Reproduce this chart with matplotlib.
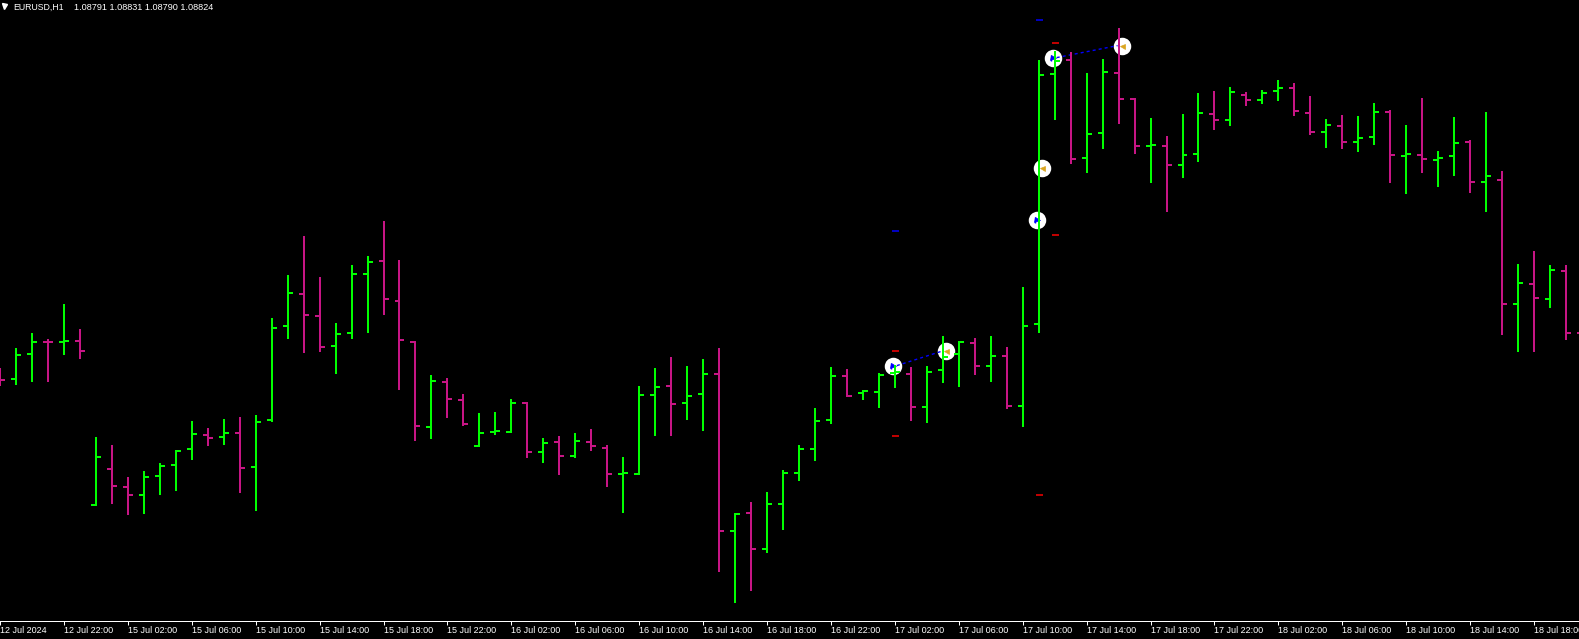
import matplotlib
matplotlib.use("Agg")
import matplotlib.pyplot as plt
from matplotlib.lines import Line2D
import pandas as pd
import numpy as np

# ---------------- data ----------------
symbol = "EURUSD,H1"
last_quote = ["1.08791", "1.08831", "1.08790", "1.08824"]

bar_times = (list(pd.date_range("2024-07-12 18:00", periods=6, freq="h")) +
             list(pd.date_range("2024-07-15 00:00", periods=94, freq="h")))

opens = [1.09045, 1.09041, 1.09073, 1.09088, 1.09088, 1.09089, 1.08884, 1.08929, 1.08906, 1.08896,
         1.08920, 1.08934, 1.08954, 1.08971, 1.08969, 1.08974, 1.08931, 1.08990, 1.09108, 1.09148,
         1.09120, 1.09083, 1.09099, 1.09173, 1.09189, 1.09139, 1.09088, 1.08981, 1.09038, 1.09015,
         1.08958, 1.08975, 1.08975, 1.09011, 1.08950, 1.08963, 1.08945, 1.08963, 1.08955, 1.08923,
         1.08923, 1.09021, 1.09033, 1.09011, 1.09023, 1.09048, 1.08851, 1.08874, 1.08829, 1.08885,
         1.08924, 1.08954, 1.08990, 1.09045, 1.09024, 1.09025, 1.09049, 1.09048, 1.09006, 1.09053,
         1.09072, 1.09086, 1.09058, 1.09070, 1.09008, 1.09110, 1.09423, 1.09440, 1.09318, 1.09349,
         1.09424, 1.09391, 1.09333, 1.09333, 1.09309, 1.09322, 1.09373, 1.09365, 1.09396, 1.09390,
         1.09401, 1.09405, 1.09374, 1.09350, 1.09358, 1.09338, 1.09344, 1.09375, 1.09320, 1.09321,
         1.09315, 1.09320, 1.09338, 1.09288, 1.09290, 1.09135, 1.09160, 1.09141, 1.09176, 1.09099]
highs = [1.09055, 1.09080, 1.09099, 1.09091, 1.09135, 1.09104, 1.08969, 1.08959, 1.08919, 1.08926,
         1.08936, 1.08953, 1.08989, 1.08980, 1.08991, 1.08994, 1.08996, 1.09118, 1.09171, 1.09220,
         1.09169, 1.09111, 1.09184, 1.09195, 1.09239, 1.09190, 1.09089, 1.09046, 1.09043, 1.09023,
         1.08999, 1.09000, 1.09016, 1.09013, 1.08968, 1.08970, 1.08974, 1.08979, 1.08959, 1.08944,
         1.09033, 1.09055, 1.09069, 1.09058, 1.09066, 1.09080, 1.08874, 1.08888, 1.08900, 1.08928,
         1.08959, 1.09005, 1.09056, 1.09054, 1.09028, 1.09049, 1.09059, 1.09056, 1.09058, 1.09095,
         1.09089, 1.09093, 1.09095, 1.09081, 1.09156, 1.09440, 1.09451, 1.09450, 1.09424, 1.09441,
         1.09480, 1.09393, 1.09368, 1.09345, 1.09373, 1.09399, 1.09401, 1.09406, 1.09400, 1.09403,
         1.09415, 1.09411, 1.09395, 1.09366, 1.09371, 1.09370, 1.09386, 1.09378, 1.09359, 1.09393,
         1.09326, 1.09369, 1.09340, 1.09375, 1.09301, 1.09185, 1.09201, 1.09184, 1.09184, 1.09109]
lows = [1.09033, 1.09034, 1.09038, 1.09038, 1.09071, 1.09066, 1.08883, 1.08885, 1.08871, 1.08873,
        1.08896, 1.08901, 1.08940, 1.08958, 1.08959, 1.08899, 1.08876, 1.08988, 1.09091, 1.09074,
        1.09075, 1.09048, 1.09091, 1.09099, 1.09121, 1.09028, 1.08964, 1.08966, 1.08993, 1.08983,
        1.08956, 1.08971, 1.08974, 1.08943, 1.08936, 1.08921, 1.08943, 1.08951, 1.08906, 1.08874,
        1.08921, 1.08970, 1.08970, 1.08990, 1.08976, 1.08800, 1.08761, 1.08776, 1.08824, 1.08853,
        1.08914, 1.08939, 1.08985, 1.09019, 1.09015, 1.09005, 1.09030, 1.08989, 1.08986, 1.09036,
        1.09031, 1.09046, 1.09038, 1.09004, 1.08981, 1.09099, 1.09365, 1.09310, 1.09299, 1.09329,
        1.09360, 1.09323, 1.09286, 1.09250, 1.09293, 1.09313, 1.09353, 1.09358, 1.09383, 1.09385,
        1.09389, 1.09370, 1.09346, 1.09330, 1.09329, 1.09325, 1.09334, 1.09286, 1.09273, 1.09299,
        1.09281, 1.09295, 1.09274, 1.09250, 1.09096, 1.09075, 1.09075, 1.09130, 1.09090, 1.09084]
closes = [1.09040, 1.09071, 1.09088, 1.09087, 1.09089, 1.09076, 1.08944, 1.08908, 1.08896, 1.08919,
          1.08933, 1.08951, 1.08973, 1.08968, 1.08974, 1.08930, 1.08988, 1.09105, 1.09149, 1.09121,
          1.09081, 1.09098, 1.09173, 1.09188, 1.09141, 1.09090, 1.08983, 1.09039, 1.09016, 1.08985,
          1.08974, 1.08976, 1.09011, 1.08950, 1.08961, 1.08945, 1.08964, 1.08958, 1.08923, 1.08924,
          1.09021, 1.09031, 1.09010, 1.09020, 1.09048, 1.08851, 1.08873, 1.08829, 1.08885, 1.08924,
          1.08954, 1.08989, 1.09045, 1.09020, 1.09026, 1.09046, 1.09050, 1.09006, 1.09050, 1.09069,
          1.09088, 1.09058, 1.09070, 1.09008, 1.09108, 1.09421, 1.09439, 1.09316, 1.09348, 1.09425,
          1.09391, 1.09333, 1.09334, 1.09309, 1.09321, 1.09374, 1.09365, 1.09400, 1.09390, 1.09399,
          1.09405, 1.09376, 1.09350, 1.09359, 1.09338, 1.09343, 1.09375, 1.09321, 1.09322, 1.09316,
          1.09318, 1.09336, 1.09288, 1.09295, 1.09135, 1.09161, 1.09143, 1.09178, 1.09099, 1.09090]

tick_labels = ["12 Jul 2024", "12 Jul 22:00", "15 Jul 02:00", "15 Jul 06:00", "15 Jul 10:00",
               "15 Jul 14:00", "15 Jul 18:00", "15 Jul 22:00", "16 Jul 02:00", "16 Jul 06:00",
               "16 Jul 10:00", "16 Jul 14:00", "16 Jul 18:00", "16 Jul 22:00", "17 Jul 02:00",
               "17 Jul 06:00", "17 Jul 10:00", "17 Jul 14:00", "17 Jul 18:00", "17 Jul 22:00",
               "18 Jul 02:00", "18 Jul 06:00", "18 Jul 10:00", "18 Jul 14:00", "18 Jul 18:00"]

# trades (bar time, price)
trade_open_time = ["2024-07-17 02:00", "2024-07-17 12:00", "2024-07-17 11:00"]
trade_open_price = [1.09058, 1.09443, 1.09240]
trade_close_time = ["2024-07-17 05:00", "2024-07-17 16:00", "2024-07-17 11:00"]
trade_close_price = [1.09076, 1.09458, 1.09305]

# stop / target levels
level_time = ["2024-07-17 02:00", "2024-07-17 02:00", "2024-07-17 02:00",
              "2024-07-17 12:00", "2024-07-17 12:00", "2024-07-17 11:00", "2024-07-17 11:00"]
level_price = [1.09226, 1.09076, 1.08970, 1.09461, 1.09221, 1.09490, 1.08896]
level_kind = ["tp", "sl", "sl", "sl", "sl", "tp", "sl"]

# ---------------- styles ----------------
UP = "#00FF00"
DOWN = "#C71585"
BG = "black"
W, H, DPI = 1579, 639, 100
PX = 72.0 / DPI  # points per pixel
BAR_PX = 16.0    # pixels per bar
FONT = ["Liberation Sans", "DejaVu Sans"]

fig = plt.figure(figsize=(W / DPI, H / DPI), dpi=DPI, facecolor=BG)
axis_y_px = 621
ax = fig.add_axes([0, (H - axis_y_px) / H, 1, axis_y_px / H], facecolor=BG)

n = len(opens)
x = np.arange(n)
time_index = pd.DatetimeIndex(bar_times)

def bar_of(t):
    return int(time_index.get_loc(pd.Timestamp(t)))

# x limits: bar i centre at pixel -2 + 16 i
x_left = 2.0 / BAR_PX
ax.set_xlim(x_left, x_left + W / BAR_PX)
price_per_px = 0.0000125
y_top = 1.09515
ax.set_ylim(y_top - axis_y_px * price_per_px, y_top)

o = np.array(opens); h = np.array(highs); l = np.array(lows); c = np.array(closes)
colors = [UP if cc > oo else DOWN for oo, cc in zip(o, c)]
lw = 2 * PX
tick = 5 / BAR_PX

# trade annotations (behind the bars)
oi = np.array([bar_of(t) for t in trade_open_time])
ci = np.array([bar_of(t) for t in trade_close_time])
open_x = oi - 2 / BAR_PX
close_x = ci + 3 / BAR_PX
circ_ms = 17.5 * PX
ax.plot(open_x, trade_open_price, "o", ms=circ_ms, mfc="white", mec="none", zorder=2)
ax.plot(close_x, trade_close_price, "o", ms=circ_ms, mfc="white", mec="none", zorder=2)
for xo, po, xc, pc in zip(open_x, trade_open_price, close_x, trade_close_price):
    if xc - xo > 1:
        ax.plot([xo + 4 / BAR_PX, xc - 4 / BAR_PX], [po, pc], color="#0000FF", lw=1.0,
                dashes=(2.2, 2.2), zorder=3)
ax.plot(open_x, trade_open_price, ">", ms=3.6, mfc="#0000FF", mec="#0000FF", mew=0.5, zorder=4)
ax.plot(open_x - 1.5 / BAR_PX, trade_open_price, "|", ms=4.5, mec="#0000FF", mew=1.0, zorder=4)
ax.plot(close_x, trade_close_price, "<", ms=3.6, mfc="#DAA520", mec="#DAA520", mew=0.5, zorder=4)

li = np.array([bar_of(t) for t in level_time])
lcol = ["#0000FF" if k == "tp" else "#FF0000" for k in level_kind]
ax.hlines(level_price, li - 3 / BAR_PX, li + 4 / BAR_PX, colors=lcol, lw=1.5 * PX, zorder=3)

# OHLC bars
ax.vlines(x, l, h, colors=colors, lw=lw, capstyle="butt", zorder=5)
ax.hlines(o, x - tick, x, colors=colors, lw=lw, zorder=5)
ax.hlines(c, x, x + tick, colors=colors, lw=lw, zorder=5)

# x axis
labels_fmt = [t.strftime("%d Jul %H:%M") for t in time_index]
tick_pos = []
for lab in tick_labels:
    if lab.endswith("2024"):
        tick_pos.append(0)
    else:
        tick_pos.append(labels_fmt.index(lab))
ax.set_xticks(tick_pos)
ax.set_xticklabels(tick_labels, ha="left", fontsize=6.5, color="white", fontfamily=FONT)
ax.tick_params(axis="x", colors="white", length=4 * PX, width=PX, pad=1.0, direction="out")
ax.set_yticks([])
for s in ["top", "left", "right"]:
    ax.spines[s].set_visible(False)
ax.spines["bottom"].set_color("white")
ax.spines["bottom"].set_linewidth(PX)

# title
fig.add_artist(Line2D([4.0 / W], [1 - 5.5 / H], marker="v", ms=3.6, color="white",
                      mec="white", transform=fig.transFigure))
fig.text(13.5 / W, 1 - 9.5 / H, symbol, color="white",
         fontsize=6.3, fontfamily=FONT, va="baseline", ha="left")
fig.text(74.5 / W, 1 - 9.5 / H, " ".join(last_quote), color="white",
         fontsize=6.55, fontfamily=FONT, va="baseline", ha="left")

fig.savefig("out.png", dpi=DPI, facecolor=BG)
